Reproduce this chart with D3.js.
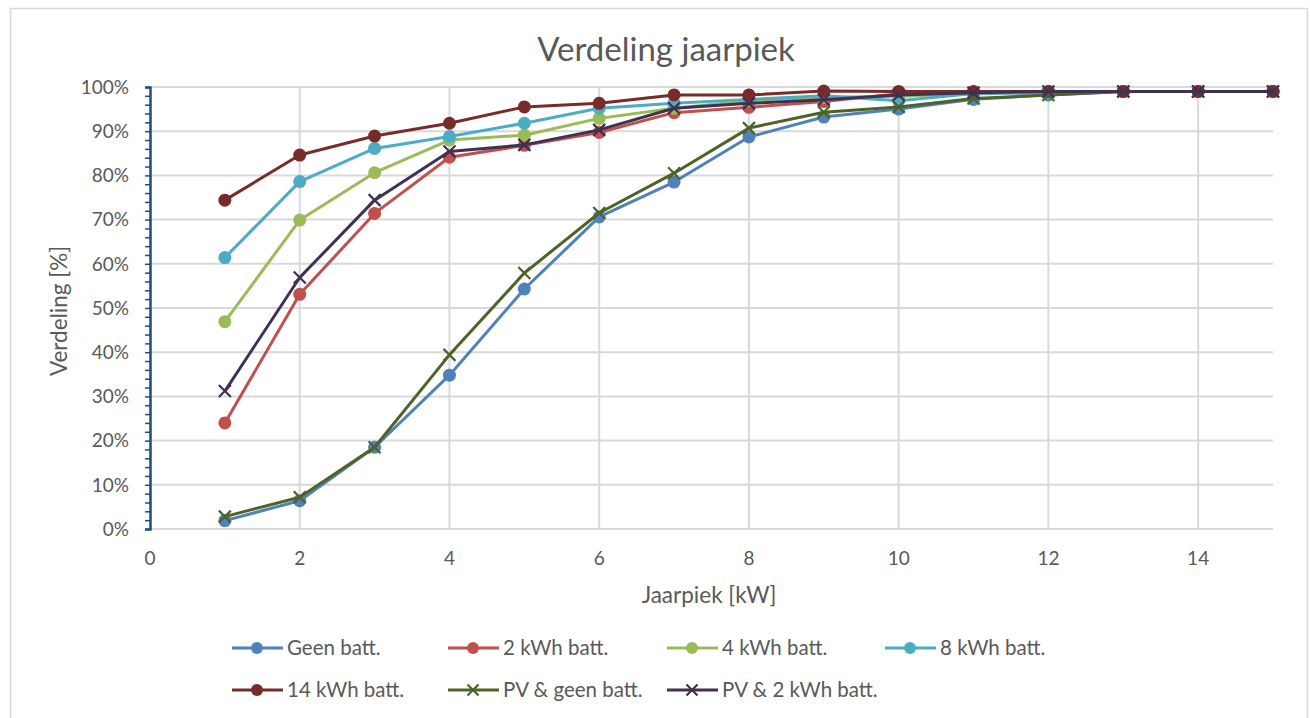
<!DOCTYPE html>
<html>
<head>
<meta charset="utf-8">
<script src="https://cdn.jsdelivr.net/npm/d3@7"></script>
<style>
  body { margin: 0; background: #fff; }
  text { font-family: Lato, "Open Sans", sans-serif; fill: #595959; }
</style>
</head>
<body>
<div id="graph"></div>
<script>
let W = 1310, H = 718;
let plotLeft = 150, plotRight = 1273, plotTop = 87, plotBottom = 529;

// x values (kW)
let kW = [1, 2, 3, 4, 5, 6, 7, 8, 9, 10, 11, 12, 13, 14, 15];
let xTicks = [0, 2, 4, 6, 8, 10, 12, 14];
let yTicks = [0, 10, 20, 30, 40, 50, 60, 70, 80, 90, 100];

let names = ["Geen batt.", "2 kWh batt.", "4 kWh batt.", "8 kWh batt.",
  "14 kWh batt.", "PV & geen batt.", "PV & 2 kWh batt."];
let colors = ["#4F81BD", "#C0504D", "#9BBB59", "#4BACC6", "#772C2A", "#4F6228", "#403152"];
let markers = ["circle", "circle", "circle", "circle", "circle", "x", "x"];

let geen = [1.9, 6.4, 18.5, 34.8, 54.3, 70.6, 78.5, 88.7, 93.2, 95.0, 97.2, 98.2, 99, 99, 99];
let kwh2 = [24.0, 53.1, 71.4, 84.1, 86.8, 89.7, 94.2, 95.4, 96.7, 98.5, 98.8, 99, 99, 99, 99];
let kwh4 = [46.9, 69.9, 80.6, 88.0, 89.1, 92.9, 95.2, 96.9, 97.7, 97.9, 98.5, 98.8, 99, 99, 99];
let kwh8 = [61.4, 78.6, 86.1, 88.8, 91.8, 95.2, 96.3, 97.2, 98.0, 96.9, 98.5, 98.7, 99, 99, 99];
let kwh14 = [74.4, 84.6, 88.9, 91.8, 95.5, 96.3, 98.2, 98.2, 99.1, 99, 99, 99, 99, 99, 99];
let pvGeen = [2.8, 7.2, 18.5, 39.4, 57.9, 71.5, 80.5, 90.7, 94.3, 95.5, 97.4, 98.2, 99, 99, 99];
let pv2 = [31.2, 56.9, 74.4, 85.4, 86.9, 90.3, 95.2, 96.3, 97.1, 98.2, 98.7, 99, 99, 99, 99];
let series = [geen, kwh2, kwh4, kwh8, kwh14, pvGeen, pv2];

let svg = d3.select("#graph").append("svg")
  .attr("width", W).attr("height", H);

// chart frame
svg.append("rect")
  .attr("x", 10.5).attr("y", 8.5)
  .attr("width", 1297).attr("height", 740)
  .attr("fill", "#fff").attr("stroke", "#d9d9d9").attr("stroke-width", 1.5);

let x = d3.scaleLinear().domain([0, 15]).range([plotLeft, plotRight]);
let y = d3.scaleLinear().domain([0, 100]).range([plotBottom, plotTop]);

// gridlines
svg.append("g").selectAll("line").data(yTicks).enter().append("line")
  .attr("x1", plotLeft).attr("x2", plotRight)
  .attr("y1", d => y(d)).attr("y2", d => y(d))
  .attr("stroke", "#d9d9d9").attr("stroke-width", 2);
svg.append("g").selectAll("line").data(xTicks.slice(1)).enter().append("line")
  .attr("x1", d => x(d)).attr("x2", d => x(d))
  .attr("y1", plotTop).attr("y2", plotBottom)
  .attr("stroke", "#d9d9d9").attr("stroke-width", 2);

// y axis with minor ticks
let yAxis = d3.axisLeft(y).tickValues(d3.range(0, 101, 2)).tickSize(5).tickFormat("");
let ya = svg.append("g").attr("transform", "translate(" + plotLeft + ",0)").call(yAxis);
ya.select(".domain").attr("stroke", "#1F4E79").attr("stroke-width", 2.5);
ya.selectAll(".tick line").attr("stroke", "#1F4E79").attr("stroke-width", 1.5);

svg.append("g").selectAll("text").data(yTicks).enter().append("text")
  .attr("x", 129).attr("y", d => y(d))
  .attr("dy", "0.36em")
  .attr("text-anchor", "end")
  .style("font-size", "19px")
  .text(d => d + "%");

svg.append("g").selectAll("text").data(xTicks).enter().append("text")
  .attr("x", d => x(d)).attr("y", 558)
  .attr("dy", "0.36em")
  .attr("text-anchor", "middle")
  .style("font-size", "19px")
  .text(d => d);

// titles
svg.append("text").attr("x", 666).attr("y", 61)
  .attr("text-anchor", "middle").style("font-size", "33px")
  .text("Verdeling jaarpiek");
svg.append("text").attr("x", 709).attr("y", 603)
  .attr("text-anchor", "middle").style("font-size", "22.5px")
  .text("Jaarpiek [kW]");
svg.append("text")
  .attr("transform", "translate(67," + ((plotTop + plotBottom) / 2 + 3) + ") rotate(-90)")
  .attr("text-anchor", "middle").style("font-size", "22.5px")
  .text("Verdeling [%]");

let line = d3.line().x((d, i) => x(kW[i])).y(d => y(d));

function drawMarker(g, type, color, cx, cy, r) {
  if (type == "circle") {
    g.append("circle").attr("cx", cx).attr("cy", cy).attr("r", r).attr("fill", color);
  } else {
    let s = r;
    g.append("path")
      .attr("d", "M" + (cx - s) + "," + (cy - s) + "L" + (cx + s) + "," + (cy + s) +
        "M" + (cx - s) + "," + (cy + s) + "L" + (cx + s) + "," + (cy - s))
      .attr("stroke", color).attr("stroke-width", 2.2).attr("fill", "none");
  }
}

series.forEach(function(s, k) {
  let g = svg.append("g");
  g.append("path").datum(s)
    .attr("d", line)
    .attr("fill", "none")
    .attr("stroke", colors[k])
    .attr("stroke-width", 3)
    .attr("stroke-linejoin", "round");
  s.forEach(function(v, i) {
    drawMarker(g, markers[k], colors[k], x(kW[i]), y(v), markers[k] == "circle" ? 6.5 : 6);
  });
});

// legend
let legX = [232, 448, 667, 885];
let legY = [648, 690];
names.forEach(function(n, k) {
  let lx = k < 4 ? legX[k] : legX[k - 4];
  let ly = k < 4 ? legY[0] : legY[1];
  let g = svg.append("g");
  g.append("line").attr("x1", lx).attr("x2", lx + 51)
    .attr("y1", ly).attr("y2", ly)
    .attr("stroke", colors[k]).attr("stroke-width", 3);
  drawMarker(g, markers[k], colors[k], lx + 25, ly, markers[k] == "circle" ? 6 : 5.5);
  g.append("text").attr("x", lx + 55).attr("y", ly)
    .attr("dy", "0.36em").style("font-size", "20.5px")
    .text(n);
});
</script>
</body>
</html>
